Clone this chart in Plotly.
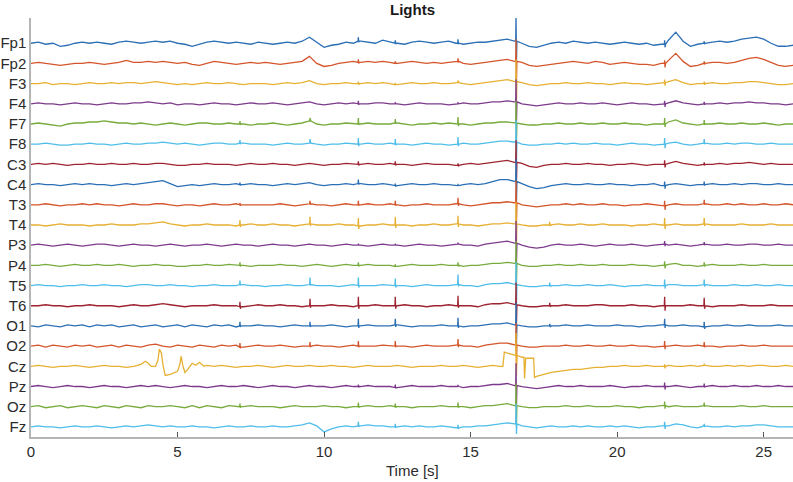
import numpy as np
import plotly.graph_objects as go

# ---------------- data ----------------
channels = ["Fp1", "Fp2", "F3", "F4", "F7", "F8", "C3", "C4", "T3", "T4",
            "P3", "P4", "T5", "T6", "O1", "O2", "Cz", "Pz", "Oz", "Fz"]

sample_step = 0.25   # seconds between the values
channel_gap = 20     # vertical spacing between channel baselines

fp1 = [0, 1, -1, 0, -3, -2, 0, 1,  0, 1, 0, -1, 1, 2, 1, 0,  1, 2, 1, 2, 0, -1, -3, -1,
       1, 2, 1, 0, 1, 0, -1, 1,  0, -1, 0, 1, 0, 2, 6, 1,  -4, -2, -1, 1, 0, 2, 1, 0,
       3, 1, 0, -1, 1, 2, 1, 0,  1, 2, 0, -1, 0, 1, 1, 2,  3, 4, 2, 0, -3, -4, -2, 0,
       1, 0, 2, 1, 0, 1, 0, -1,  0, 1, 0, -1, 0, -2, -1, 3,  11, 2, -3, -1, 0, 1, 2, 1,
       2, 4, 5, 6, 4, 0, -3, -3, -2]
fp2 = [0, 1, 0, -1, -2, -1, 0, 0,  1, 0, -1, 0, 1, 3, 1, 1,  2, 1, 2, 1, 0, 1, -1, -2,
       0, 2, 1, 0, -1, 0, 1, 0,  1, 0, -1, 0, 1, 2, 7, 0,  -3, -2, 0, 1, 2, 1, 2, 1,
       2, 1, 0, 1, 2, 1, 0, 1,  0, 1, 2, 0, -1, 0, 1, 2,  3, 4, 2, 1, -2, -3, -2, -1,
       0, 1, 2, 1, 0, 2, 1, -1,  0, 1, 0, -1, -1, -2, 0, 3,  10, 2, -3, -2, 0, 1, 1, 0,
       1, 3, 5, 6, 4, 1, -2, -3, -2]
f3 = [0, 0, 1, -1, 0, 0, -1, 0,  1, 0, 0, 1, 0, 1, 1, 0,  1, 2, 1, 0, -1, 0, -1, 0,
      1, 0, 0, 1, 0, -1, 0, 0,  0, -1, 0, 1, 0, 1, 3, 0,  -1, 0, 0, 1, 0, 0, 1, 0,
      1, 0, -1, 0, 1, 0, 0, 1,  0, 0, 1, 0, -1, 0, 1, 2,  3, 4, 2, 1, -1, -2, -1, 0,
      0, 1, 0, 0, 1, 0, 0, -1,  0, 1, 0, 0, -1, 0, 1, 2,  4, 1, -1, 0, 0, 1, 0, 0,
      1, 1, 2, 2, 1, 0, -1, -1, 0]
f4 = [0, 1, 0, 0, -1, 0, 1, 0,  0, -1, 0, 1, 0, 0, 1, 1,  2, 1, 0, 1, -1, 0, 0, -1,
      0, 1, 0, 0, -1, 0, 1, 0,  0, 1, 0, -1, 0, 1, 2, 0,  -1, 0, 1, 0, 1, 0, 0, 1,
      1, 0, 0, -1, 0, 1, 0, 0,  0, -1, 0, 1, 0, 0, 1, 2,  2, 3, 2, 0, -1, -2, -1, 0,
      1, 0, 0, 1, 0, 0, 1, 0,  -1, 0, 1, 0, 0, -1, 0, 1,  3, 1, 0, -1, 0, 0, 1, 0,
      1, 1, 2, 1, 1, 0, 0, -1, 0]
f7 = [0, 1, 0, -1, -2, 0, 1, 1,  2, 2, 3, 2, 1, 1, 0, 1,  0, -1, 0, 1, 0, -1, 0, 1,
      1, 0, 0, 1, 0, 0, -1, 0,  0, 1, 0, -1, 0, 1, 3, 0,  -1, 0, 0, 1, 0, 0, 1, 0,
      0, 0, 1, 0, -1, 0, 0, 1,  0, 1, 0, 0, -1, 0, 1, 1,  2, 2, 1, 0, -1, -1, 0, 0,
      1, 0, 0, 1, 0, 0, 1, 0,  0, 1, 0, 0, -1, 0, 0, 2,  4, 1, 0, -1, 0, 0, 1, 0,
      0, 1, 0, 0, 1, 0, -1, 0, 0]
f8 = [0, 0, 1, 0, -1, -1, 0, 0,  1, 0, 0, -1, 0, 1, 0, 0,  1, 1, 2, 1, 0, 1, 0, -1,
      0, 1, 1, 0, 0, 1, 0, 0,  0, -1, 0, 1, 0, 0, 1, 0,  -1, 0, 0, 1, 0, 0, 1, 0,
      0, 1, 0, 0, -1, 0, 1, 0,  0, -1, 0, 1, 0, 0, 1, 2,  3, 3, 2, 0, -1, -1, 0, 0,
      1, 0, 1, 0, 0, 1, 0, 0,  -1, 0, 1, 0, 0, -1, 0, 1,  2, 0, -1, 0, 1, 0, 0, 1,
      0, 1, 1, 0, 0, 1, 0, 0, 0]
c3 = [0, 1, 0, 1, 0, -1, 0, 0,  1, 0, 0, 1, 0, 0, 1, 0,  0, 1, 1, 0, -1, -1, 0, 0,
      1, 0, 0, 0, -1, 0, 1, 0,  0, 1, 0, 0, -1, 0, 1, 0,  -1, 0, 0, 1, 0, 0, 1, 0,
      0, 1, 0, 0, -1, 0, 1, 0,  0, 0, -1, 0, 1, 0, 1, 2,  3, 4, 2, 1, -2, -3, -1, 0,
      0, 1, 0, 0, 1, 0, 0, -1,  0, 0, 1, 0, -1, 0, 0, 1,  3, 1, 0, -1, 0, 0, 1, 0,
      1, 1, 2, 1, 0, 1, 0, 0, 0]
c4 = [0, 1, 0, 0, -1, 0, 1, 0,  1, 0, 0, -1, 0, 1, 0, 1,  2, 3, 4, 1, -2, -1, 0, -1,
      0, 1, 0, 0, 1, 0, 1, 0,  0, -1, 0, 1, 0, 1, 2, 0,  -1, 0, 0, 1, 0, 1, 0, 0,
      1, 0, -1, 0, 1, 0, 0, 1,  0, 0, -1, 0, 1, 0, 1, 3,  5, 5, 3, 1, -2, -4, -3, -1,
      0, 1, 0, 0, 1, 0, 0, 1,  0, 0, -1, 0, 0, 1, -1, 0,  1, 0, -1, 0, 0, 1, 0, 0,
      1, 0, 1, 1, 0, 0, 1, 0, 0]
t3 = [0, 0, 1, 0, -1, 0, 0, 1,  0, 1, 0, 0, -1, 0, 1, 0,  0, 1, 1, 0, -1, 0, 0, -1,
      0, 1, 0, 0, 1, 0, 0, 0,  0, 0, 1, 0, -1, 0, 1, 0,  0, -1, 0, 1, 0, 0, 1, 0,
      0, 1, 0, -1, 0, 0, 1, 0,  0, 0, 1, 0, -1, 0, 1, 2,  2, 3, 2, 0, -1, -2, -1, 0,
      0, 1, 0, 1, 0, 0, 1, 0,  0, -1, 0, 0, 1, 0, -1, 0,  1, 0, 0, 0, 1, 0, 0, 1,
      0, 1, 0, 0, 1, 0, 0, 1, 0]
t4 = [0, 0, -1, 0, 1, 0, 0, 0,  -1, 0, 0, 1, 0, 0, 0, 1,  1, 2, 3, 1, 0, -1, 0, 0,
      1, 0, 0, 0, -1, 0, 1, 0,  0, 1, 0, 0, -1, 0, 1, 0,  0, 0, 1, 0, 0, -1, 0, 0,
      1, 0, 0, 0, -1, 0, 0, 1,  0, 0, 1, 0, 0, -1, 0, 1,  1, 2, 1, 0, -1, -1, 0, 0,
      1, 0, 0, 1, 0, 0, 1, 0,  0, 0, -1, 0, 0, 1, 0, 0,  1, 0, 0, 0, 1, 0, 0, 0,
      0, 1, 0, 0, 0, 1, 0, 0, 0]
p3 = [0, 1, 0, -1, 0, 1, 0, -1,  0, 1, 1, 0, -1, 0, 1, 0,  0, -1, 0, 1, 0, -1, 0, 0,
      1, 0, -1, 0, 1, 0, 0, -1,  0, 1, 0, 0, -1, 0, 1, 0,  0, -1, 0, 1, 0, 0, -1, 0,
      1, 0, 0, -1, 0, 1, 0, 0,  -1, 0, 1, 0, 0, -1, 1, 2,  3, 4, 2, 0, -2, -3, -2, 0,
      1, 0, 0, 1, 0, -1, 0, 1,  0, 0, 1, 0, -1, 0, 1, 0,  1, 0, -1, 0, 1, 0, 0, 1,
      0, 0, 1, 1, 0, 0, 1, 0, 0]
p4 = [0, 0, 1, 0, -1, 0, 1, 0,  0, 1, 0, 0, 1, 0, -1, 0,  0, 1, 0, 0, -1, -1, 0, 0,
      1, 0, 0, 1, 0, 0, -1, 0,  0, 0, 1, 0, 0, -1, 0, 1,  0, -1, 0, 1, 0, 0, 1, 0,
      0, 0, -1, 0, 1, 0, 0, 0,  1, 0, 0, -1, 0, 0, 1, 2,  2, 3, 2, 0, -1, -1, 0, 0,
      1, 0, 0, 1, 0, 0, 1, 0,  0, 0, 1, 0, 0, -1, 0, 1,  2, 0, 0, -1, 0, 1, 0, 0,
      0, 1, 0, 0, 1, 0, 0, 0, 0]
t5 = [0, 1, 0, 0, -1, 0, 0, 1,  0, 0, 1, 0, 0, -1, 0, 1,  1, 0, 0, 1, 0, 0, -1, 0,
      0, 1, 0, 0, 0, 1, 0, 0,  -1, 0, 0, 1, 0, 0, 1, 0,  0, 0, -1, 0, 1, 0, 0, 0,
      1, 0, 0, 0, -1, 0, 1, 0,  0, 0, 1, 0, 0, -1, 1, 2,  2, 3, 1, 0, -1, -1, 0, 0,
      0, 1, 0, 0, 1, 0, 0, 1,  0, -1, 0, 0, 1, 0, 0, 1,  1, 0, 0, 0, 1, 0, 0, 0,
      1, 0, 0, 1, 0, 0, 1, 0, 0]
t6 = [0, 0, 1, 0, 0, -1, 0, 0,  1, 0, 0, 0, -1, 0, 1, 0,  0, 1, 2, 1, 0, -1, 0, 0,
      0, 1, 0, 0, 0, -1, 0, 1,  0, 0, 1, 0, 0, -1, 0, 0,  0, 1, 0, 0, -1, 0, 0, 1,
      0, 0, 0, 1, 0, 0, -1, 0,  0, 1, 0, 0, 0, -1, 1, 2,  2, 3, 1, 0, -1, -1, 0, 0,
      0, 1, 0, 0, 0, 1, 1, 0,  0, 0, 1, 0, 0, -1, 0, 0,  0, 0, 1, 0, 0, -1, 0, 0,
      0, 1, 0, 0, 0, 1, 0, 0, 0]
o1 = [0, -1, 1, 0, -1, 1, 0, 1,  -1, 1, 0, 1, -1, 0, 1, -1,  0, 1, -1, 0, 1, -1, 1, 0,
      -1, 1, 0, 1, -1, 0, 0, 1,  0, 0, -1, 0, 1, 0, 0, 0,  0, 1, 0, -1, 0, 0, 1, 0,
      0, 0, 1, 0, -1, 0, 0, 0,  1, 0, 0, -1, 0, 0, 1, 2,  2, 3, 1, 0, -1, -1, 0, 0,
      0, 1, 0, 0, 1, 0, 0, 0,  1, 0, 0, -1, 0, 0, 1, 0,  0, 1, 0, 0, -1, 0, 0, 1,
      0, 0, 1, 0, 0, 0, 1, 0, 0]
o2 = [0, 1, -1, 1, 0, -1, 1, 0,  1, -1, 0, 1, -1, 1, 0, -1,  1, 2, 0, -1, 1, 0, -1, 1,
      0, -1, 1, 0, 1, -1, 0, 1,  0, 0, 1, 0, -1, 0, 0, 1,  0, 0, -1, 0, 1, 0, 0, 0,
      1, 0, 0, 0, -1, 0, 1, 0,  0, 0, 1, 0, 0, -1, 1, 2,  3, 3, 1, 0, -1, -1, 0, 0,
      0, 1, 0, 0, 1, 0, 0, 1,  0, 0, 1, 0, 0, -1, 0, 0,  1, 0, 0, 1, 0, 0, -1, 0,
      0, 1, 0, 0, 1, 0, 0, 0, 0]
cz = [0, 1, 0, -1, 0, 0, 1, 0,  -1, 0, 1, 0, 0, -1, 0, 2,  3, 0, 2, -8, -5, -6, 3, 4,
      1, 0, 1, 0, -1, 0, 0, 1,  0, -1, 0, 1, 0, 0, 1, 0,  0, 1, 0, 0, -1, 0, 1, 0,
      0, 0, 1, 0, -1, 0, 0, 0,  1, 0, 0, 1, 0, -1, 0, 1,  0, 13, 11, 9, 8, -10, -8, -6,
      -5, -4, -3, -3, -2, -1, -1, 0,  0, 1, 0, 0, 1, 0, 0, 1,  0, 0, 1, 0, 1, 0, 0, 1,
      0, 1, 0, 1, 1, 0, 0, 1, 0]
pz = [0, 1, 0, -1, 0, 1, 0, 0,  -1, 0, 1, 0, 0, -1, 0, 1,  0, 1, 0, -1, 0, 1, 0, 0,
      -1, 0, 1, 0, 0, 1, 0, -1,  0, 1, 0, 0, -1, 0, 1, 0,  0, -1, 0, 1, 0, 0, 1, 0,
      0, 0, -1, 0, 1, 0, 0, 0,  1, 0, 0, -1, 0, 0, 1, 2,  2, 3, 1, 0, -1, -2, -1, 0,
      1, 0, 0, 1, 0, 0, 0, 1,  0, -1, 0, 0, 1, 0, 0, 0,  1, 0, -1, 0, 0, 1, 0, 0,
      1, 0, 0, 1, 0, 0, 1, 0, 0]
oz = [0, 1, -1, 0, 1, -1, 0, 1,  0, -1, 1, 0, -1, 1, 0, -1,  1, 0, 0, 1, 0, -1, 1, -1,
      1, 0, -1, 1, 0, 0, 1, 0,  0, 0, -1, 0, 1, 0, 0, 0,  1, 0, 0, -1, 0, 0, 1, 0,
      0, 1, 0, 0, -1, 0, 0, 0,  1, 0, 0, 0, -1, 0, 1, 1,  2, 3, 1, 0, -1, -1, 0, 0,
      0, 1, 0, 0, 1, 0, 0, 0,  1, 0, 0, -1, 0, 0, 1, 0,  1, 0, 0, 0, 1, 0, 0, 0,
      0, 1, 0, 0, 1, 0, 0, 0, 0]
fz = [0, 1, 0, 0, -1, 0, 1, 0,  0, 1, 0, -1, 0, 1, 0, 1,  2, 1, 0, 1, 0, 0, 1, 0,
      0, -1, 0, 1, 0, 0, 1, 0,  0, 1, 0, 0, 1, 2, 4, 1,  -5, -2, 0, 1, 0, 1, 2, 1,
      1, 0, 0, 1, 0, 1, 0, 0,  1, 0, -1, 0, 0, 1, 1, 2,  3, 4, 3, 1, 0, -1, 0, 1,
      0, 0, 1, 0, 1, 0, 0, 1,  0, 1, 0, -1, 0, 0, 1, 1,  3, 2, 0, -1, 1, 0, 0, 1,
      0, 1, 1, 2, 2, 1, 0, 0, 0]

traces = [fp1, fp2, f3, f4, f7, f8, c3, c4, t3, t4, p3, p4, t5, t6, o1, o2, cz, pz, oz, fz]

# sharp spikes seen across channels (time in s), peak and undershoot per channel
spike_times = [7.13, 9.52, 11.17, 12.43, 14.57, 16.55, 17.70, 21.62, 22.97]
spike_up = {
    "Fp1": [0, 0, 4, 3, 4, 25, 0, 4, 2], "Fp2": [0, 0, 3, 2, 3, 22, 0, 3, 2],
    "F3": [0, 0, 2, 1, 2, 22, 0, 3, 2], "F4": [0, 0, 3, 1, 1, 22, 0, 3, 2],
    "F7": [3, 3, 6, 4, 7, 22, 0, 6, 4], "F8": [3, 4, 6, 5, 7, 22, 0, 6, 4],
    "C3": [0, 0, 3, 3, 2, 22, 0, 4, 2], "C4": [2, 0, 4, 2, 1, 22, 0, 4, 3],
    "T3": [2, 3, 4, 4, 6, 22, 0, 5, 4], "T4": [5, 7, 8, 8, 8, 22, 3, 7, 6],
    "P3": [0, 0, 1, 1, 1, 22, 0, 3, 2], "P4": [3, 0, 3, 2, 3, 22, 0, 4, 3],
    "T5": [4, 7, 8, 7, 10, 22, 3, 6, 5], "T6": [5, 7, 9, 9, 10, 22, 3, 9, 8],
    "O1": [4, 4, 7, 6, 8, 22, 2, 6, 5], "O2": [4, 4, 5, 5, 6, 22, 0, 5, 4],
    "Cz": [0, 0, 0, 0, 0, 22, 0, 2, 1], "Pz": [0, 0, 2, 3, 1, 22, 0, 4, 3],
    "Oz": [3, 0, 4, 3, 4, 22, 0, 4, 3], "Fz": [0, 0, 4, 3, 3, 20, 0, 4, 2],
}
spike_down = {
    "Fp1": [0, 0, -1, -1, -1, -20, 0, -3, -1], "Fp2": [0, 0, -1, 0, -1, -20, 0, -4, -1],
    "F3": [0, 0, -1, 0, 0, -20, 0, -3, -1], "F4": [0, 0, -1, 0, 0, -20, 0, -3, -1],
    "F7": [-1, 0, -1, -1, -2, -20, 0, -3, -1], "F8": [-1, 0, -2, -1, -2, -20, 0, -4, -1],
    "C3": [0, 0, -1, -1, -1, -20, 0, -3, -1], "C4": [-1, 0, -1, -1, 0, -20, 0, -3, -1],
    "T3": [-1, -1, -1, -1, -2, -20, 0, -4, -1], "T4": [-2, -2, -3, -3, -3, -20, -1, -4, -2],
    "P3": [0, 0, 0, 0, 0, -20, 0, -2, -1], "P4": [-1, 0, -1, 0, -1, -20, 0, -3, -1],
    "T5": [-1, -1, -2, -2, -2, -20, -1, -3, -2], "T6": [-2, -2, -3, -3, -2, -20, -1, -5, -3],
    "O1": [-1, -1, -2, -2, -2, -20, -1, -3, -2], "O2": [-1, -1, -1, -1, -2, -20, 0, -3, -1],
    "Cz": [0, 0, 0, 0, 0, -20, 0, -2, 0], "Pz": [0, 0, -1, -1, 0, -20, 0, -3, -1],
    "Oz": [-1, 0, -1, -1, -1, -20, 0, -3, -1], "Fz": [0, 0, -1, -1, -1, -10, 0, -3, -1],
}

# extra detail of the Cz movement artefacts
cz_extra_t = [3.90, 4.10, 4.33, 4.38, 4.45, 4.58, 4.90, 5.08, 5.12, 5.18, 5.35, 5.62, 5.90,
              16.10, 16.15, 16.82, 16.84, 16.88, 17.15, 17.18]
cz_extra_v = [5, 0, 6, 17, 13, -9, -6, 2, 10, 1, -3, 1, 0,
              0, 14, 9, -12, 8, 8, -11]

x_ticks = [0, 5, 10, 15, 20, 25]

# ---------------- styling ----------------
palette = ["#2b6fb4", "#d4552b", "#e6b032", "#7d3a8c", "#77ab3c", "#4fbde9", "#9e2431"]
font_family = "Liberation Sans, Arial, Helvetica, sans-serif"

fig = go.Figure()
n = len(channels)
for k, name in enumerate(channels):
    vals = traces[k]
    pts = [(i * sample_step, v) for i, v in enumerate(vals)]
    for j, ts in enumerate(spike_times):
        up = spike_up[name][j]
        dn = spike_down[name][j]
        if up == 0 and dn == 0:
            continue
        base = vals[int(round(ts / sample_step))]
        pts += [(ts - 0.012, base), (ts, base + up), (ts + 0.014, base + dn), (ts + 0.03, base)]
    if name == "Cz":
        pts += list(zip(cz_extra_t, cz_extra_v))
    pts.sort(key=lambda p: p[0])
    offset = (n - 1 - k) * channel_gap
    fig.add_trace(go.Scatter(
        x=[p[0] for p in pts],
        y=[p[1] + offset for p in pts],
        mode="lines",
        line=dict(color=palette[k % len(palette)], width=1.3),
        showlegend=False,
        hoverinfo="skip",
    ))

fig.update_layout(
    width=793, height=482,
    margin=dict(l=29, r=0, t=18, b=45),
    paper_bgcolor="white", plot_bgcolor="white",
    font=dict(family=font_family, size=15, color="#2b2b2b"),
    showlegend=False,
)
fig.update_xaxes(
    range=[0, 26], tickvals=x_ticks, ticktext=[str(v) for v in x_ticks],
    ticks="inside", ticklen=5, tickcolor="#555555",
    showline=True, linecolor="#b5b5b5", linewidth=1.5,
    showgrid=False, zeroline=False, mirror=False,
    tickfont=dict(size=15, color="#2b2b2b"),
)
fig.update_yaxes(
    range=[-10, 405],
    tickvals=[(n - 1 - k) * channel_gap for k in range(n)],
    ticktext=channels,
    ticks="", showline=True, linecolor="#b5b5b5", linewidth=1.5,
    showgrid=False, zeroline=False,
    tickfont=dict(size=15, color="#2b2b2b"),
)
fig.add_annotation(text="Time [s]", xref="paper", yref="paper", x=0.5, y=0,
                   yshift=-33, yanchor="middle", showarrow=False,
                   font=dict(size=15, color="#2b2b2b"))
fig.add_annotation(text="<b>Lights</b>", xref="paper", yref="paper", x=0.5, y=1,
                   yshift=9, yanchor="middle", showarrow=False,
                   font=dict(size=15, color="#1a1a1a"))

fig.write_html("out.html")
